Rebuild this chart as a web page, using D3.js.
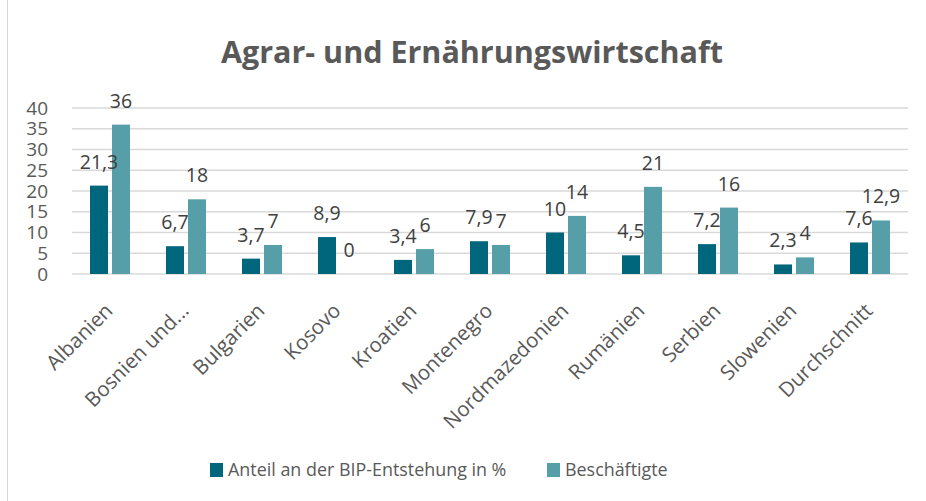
<!DOCTYPE html>
<html>
<head>
<meta charset="utf-8">
<script src="https://cdn.jsdelivr.net/npm/d3@7"></script>
<style>
  body { margin: 0; background: #fff; }
  text { font-family: "Open Sans", sans-serif; }
</style>
</head>
<body>
<div id="chart"></div>
<script>
const categories = ["Albanien", "Bosnien und...", "Bulgarien", "Kosovo", "Kroatien", "Montenegro",
  "Nordmazedonien", "Rumänien", "Serbien", "Slowenien", "Durchschnitt"];
const seriesNames = ["Anteil an der BIP-Entstehung in %", "Beschäftigte"];
const bipValues = [21.3, 6.7, 3.7, 8.9, 3.4, 7.9, 10, 4.5, 7.2, 2.3, 7.6];
const jobValues = [36, 18, 7, 0, 6, 7, 14, 21, 16, 4, 12.9];
const yTicks = [0, 5, 10, 15, 20, 25, 30, 35, 40];
const colors = ["#00667c", "#569fa8"];

const width = 926, height = 501;
const margin = { left: 72, right: 18, top: 108, bottom: 227 };

const svg = d3.select("#chart")
  .append("svg")
    .attr("width", width)
    .attr("height", height);

// chart border
svg.append("line")
  .attr("x1", 7.5).attr("x2", 7.5)
  .attr("y1", 0).attr("y2", height)
  .attr("stroke", "#d9d9d9");

svg.append("text")
  .attr("x", 472)
  .attr("y", 63)
  .attr("text-anchor", "middle")
  .attr("font-size", 30.5)
  .attr("font-weight", "bold")
  .attr("fill", "#595959")
  .text("Agrar- und Ernährungswirtschaft");

const x0 = d3.scaleBand()
  .domain(categories)
  .range([margin.left, width - margin.right])
  .paddingInner(0.4737)
  .paddingOuter(0.2368);

const x1 = d3.scaleBand()
  .domain([0, 1])
  .range([0, x0.bandwidth()])
  .paddingInner(0.1818);

const y = d3.scaleLinear()
  .domain([0, 40])
  .range([height - margin.bottom, margin.top]);

// grid
svg.append("g")
  .selectAll("line")
  .data(yTicks)
  .join("line")
    .attr("x1", margin.left)
    .attr("x2", width - margin.right)
    .attr("y1", d => y(d))
    .attr("y2", d => y(d))
    .attr("stroke", "#d9d9d9")
    .attr("stroke-width", 1.5);

svg.append("g")
  .attr("transform", `translate(${margin.left - 24},0)`)
  .call(d3.axisLeft(y).tickValues(yTicks).tickSize(0).tickPadding(0))
  .call(g => g.select(".domain").remove())
  .selectAll("text")
    .attr("font-size", 19)
    .attr("fill", "#595959")
    .attr("font-family", "'Open Sans', sans-serif");

const rows = categories.map((c, i) => ({ cat: c, vals: [bipValues[i], jobValues[i]] }));

const groups = svg.append("g")
  .selectAll("g")
  .data(rows)
  .join("g")
    .attr("transform", d => `translate(${x0(d.cat)},0)`);

groups.selectAll("rect")
  .data(d => d.vals)
  .join("rect")
    .attr("x", (d, i) => x1(i))
    .attr("width", x1.bandwidth())
    .attr("y", d => y(d))
    .attr("height", d => y(0) - y(d))
    .attr("fill", (d, i) => colors[i]);

groups.selectAll("text")
  .data(d => d.vals)
  .join("text")
    .attr("x", (d, i) => x1(i) + x1.bandwidth() / 2)
    .attr("y", d => y(d) - 17)
    .attr("text-anchor", "middle")
    .attr("font-size", 19.5)
    .attr("fill", "#404040")
    .text(d => String(d).replace(".", ","));

// x labels
svg.append("g")
  .selectAll("text")
  .data(categories)
  .join("text")
    .attr("transform", d => `translate(${x0(d) + x0.bandwidth() / 2 + 4},${y(0) + 38}) rotate(-45)`)
    .attr("text-anchor", "end")
    .attr("font-size", 20.5)
    .attr("fill", "#595959")
    .text(d => d);

// legend
const legend = svg.append("g")
  .attr("transform", "translate(210,476)");
const legX = [0, 337];
seriesNames.forEach((s, i) => {
  legend.append("rect")
    .attr("x", legX[i]).attr("y", -13)
    .attr("width", 13).attr("height", 14)
    .attr("fill", colors[i]);
  legend.append("text")
    .attr("x", legX[i] + 18).attr("y", 0)
    .attr("font-size", 17.9)
    .attr("fill", "#595959")
    .text(s);
});
</script>
</body>
</html>
